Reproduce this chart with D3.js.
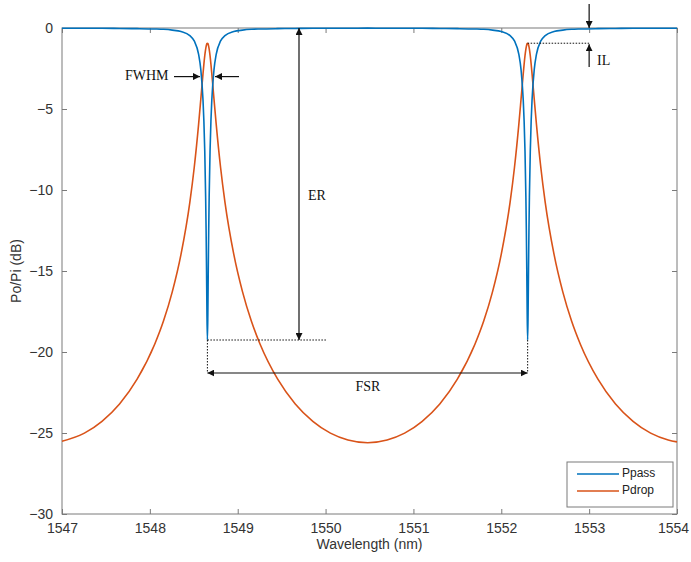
<!DOCTYPE html>
<html>
<head>
<meta charset="utf-8">
<script src="https://cdn.jsdelivr.net/npm/d3@7"></script>
<style>
  body { margin: 0; background: #fff; }
  text { font-family: "Liberation Sans", Arial, sans-serif; }
  .note { font-family: "Liberation Serif", "Times New Roman", serif; font-size: 14px; fill: #111; }
</style>
</head>
<body>
<div id="chart"></div>
<script>
var width = 691, height = 562;
var margin = { top: 28, right: 14, bottom: 48, left: 62 };

// wavelength samples (nm)
var wavelength = [
  1547.000, 1547.255, 1547.455, 1547.655, 1547.855, 1548.055, 1548.155, 1548.255, 1548.355,
  1548.455, 1548.505, 1548.555, 1548.580, 1548.605, 1548.615, 1548.625, 1548.635, 1548.640,
  1548.645, 1548.650, 1548.655, 1548.660, 1548.665, 1548.670, 1548.675, 1548.685, 1548.695,
  1548.705, 1548.730, 1548.755, 1548.805, 1548.855, 1548.955, 1549.055, 1549.155, 1549.255,
  1549.455, 1549.655, 1549.855, 1550.055, 1550.255, 1550.480,
  1550.700, 1550.900, 1551.100, 1551.300, 1551.500, 1551.700, 1551.800, 1551.900, 1552.000,
  1552.100, 1552.150, 1552.200, 1552.225, 1552.250, 1552.260, 1552.270, 1552.280, 1552.285,
  1552.290, 1552.295, 1552.300, 1552.305, 1552.310, 1552.315, 1552.320, 1552.330, 1552.340,
  1552.350, 1552.375, 1552.400, 1552.450, 1552.500, 1552.600, 1552.700, 1552.800, 1552.900,
  1553.100, 1553.300, 1553.500, 1553.700, 1553.900, 1554.000
];

// through port (dB)
var ppass = [
  -0.02, -0.02, -0.02, -0.03, -0.04, -0.06, -0.08, -0.13, -0.22,
  -0.47, -0.80, -1.63, -2.57, -4.46, -5.76, -7.62, -10.44, -12.39,
  -14.85, -17.65, -19.26, -17.65, -14.85, -12.39, -10.44, -7.62, -5.76,
  -4.46, -2.57, -1.63, -0.80, -0.47, -0.22, -0.13, -0.08, -0.06,
  -0.04, -0.03, -0.02, -0.02, -0.02, -0.01,
  -0.02, -0.02, -0.02, -0.03, -0.04, -0.06, -0.08, -0.13, -0.22,
  -0.47, -0.80, -1.63, -2.57, -4.46, -5.76, -7.62, -10.44, -12.39,
  -14.85, -17.65, -19.26, -17.65, -14.85, -12.39, -10.44, -7.62, -5.76,
  -4.46, -2.57, -1.63, -0.80, -0.47, -0.22, -0.13, -0.08, -0.06,
  -0.04, -0.03, -0.02, -0.02, -0.02, -0.02
];

// drop port (dB)
var pdrop = [
  -25.51, -25.01, -24.28, -23.21, -21.68, -19.52, -18.09, -16.29, -13.96,
  -10.76, -8.61, -5.93, -4.39, -2.82, -2.23, -1.71, -1.30, -1.15,
  -1.03, -0.96, -0.94, -0.96, -1.03, -1.15, -1.30, -1.71, -2.23,
  -2.82, -4.39, -5.93, -8.61, -10.76, -13.96, -16.29, -18.09, -19.52,
  -21.68, -23.21, -24.28, -25.01, -25.43, -25.60,
  -25.43, -25.01, -24.28, -23.21, -21.68, -19.52, -18.09, -16.29, -13.96,
  -10.76, -8.61, -5.93, -4.39, -2.82, -2.23, -1.71, -1.30, -1.15,
  -1.03, -0.96, -0.94, -0.96, -1.03, -1.15, -1.30, -1.71, -2.23,
  -2.82, -4.39, -5.93, -8.61, -10.76, -13.96, -16.29, -18.09, -19.52,
  -21.68, -23.21, -24.28, -25.01, -25.43, -25.55
];

var xTicks = [1547, 1548, 1549, 1550, 1551, 1552, 1553, 1554];
var yTicks = [0, -5, -10, -15, -20, -25, -30];
var seriesNames = ['Ppass', 'Pdrop'];
var seriesColors = ['#0072BD', '#D95319'];

// annotation anchor values
var res1 = 1548.655, res2 = 1552.30;
var dipBottom = -19.26, dropPeak = -0.94, fwhmLevel = -3;

var svg = d3.select('#chart').append('svg')
  .attr('width', width).attr('height', height)
  .style('background', '#fff');

var x = d3.scaleLinear().domain([1547, 1554]).range([margin.left, width - margin.right]);
var y = d3.scaleLinear().domain([-30, 0]).range([height - margin.bottom, margin.top]);

var defs = svg.append('defs');
defs.append('marker')
  .attr('id', 'head')
  .attr('viewBox', '0 0 10 10')
  .attr('refX', 10).attr('refY', 5)
  .attr('markerWidth', 7).attr('markerHeight', 7)
  .attr('markerUnits', 'userSpaceOnUse')
  .attr('orient', 'auto-start-reverse')
  .append('path').attr('d', 'M0,0 L10,5 L0,10 z').attr('fill', '#111');

// axes box
var axisColor = '#7a7a7a';
svg.append('rect')
  .attr('x', x(1547)).attr('y', y(0))
  .attr('width', x(1554) - x(1547)).attr('height', y(-30) - y(0))
  .attr('fill', 'none').attr('stroke', axisColor).attr('stroke-width', 1);

var xAxis = d3.axisBottom(x).tickValues(xTicks).tickSize(-5).tickPadding(9)
  .tickFormat(d3.format('d'));
var gx = svg.append('g').attr('transform', 'translate(0,' + y(-30) + ')').call(xAxis);
gx.select('.domain').remove();
gx.selectAll('line').attr('stroke', axisColor);
gx.selectAll('text').attr('fill', '#333').style('font-size', '14px')
  .attr('dx', function (d) { return d === 1554 ? -4 : 0; });

var gxTop = svg.append('g').attr('transform', 'translate(0,' + y(0) + ')')
  .call(d3.axisTop(x).tickValues(xTicks).tickSize(-5).tickFormat(''));
gxTop.select('.domain').remove();
gxTop.selectAll('line').attr('stroke', axisColor);

var yAxis = d3.axisLeft(y).tickValues(yTicks).tickSize(-5).tickPadding(9)
  .tickFormat(d3.format('d'));
var gy = svg.append('g').attr('transform', 'translate(' + x(1547) + ',0)').call(yAxis);
gy.select('.domain').remove();
gy.selectAll('line').attr('stroke', axisColor);
gy.selectAll('text').attr('fill', '#333').style('font-size', '14px');

var gyRight = svg.append('g').attr('transform', 'translate(' + x(1554) + ',0)')
  .call(d3.axisRight(y).tickValues(yTicks).tickSize(-5).tickFormat(''));
gyRight.select('.domain').remove();
gyRight.selectAll('line').attr('stroke', axisColor);

svg.append('text')
  .attr('x', (x(1547) + x(1554)) / 2).attr('y', height - 13)
  .attr('text-anchor', 'middle').attr('fill', '#333').style('font-size', '14px')
  .text('Wavelength (nm)');

svg.append('text')
  .attr('transform', 'translate(21,' + ((y(0) + y(-30)) / 2) + ') rotate(-90)')
  .attr('text-anchor', 'middle').attr('fill', '#333').style('font-size', '14px')
  .text('Po/Pi (dB)');

// curves
var seriesData = [ppass, pdrop];
var line = d3.line()
  .x(function (d) { return x(d[0]); })
  .y(function (d) { return y(d[1]); })
  .curve(d3.curveMonotoneX);

var plot = svg.append('g');
[1, 0].forEach(function (i) {
  var pts = wavelength.map(function (w, k) { return [w, seriesData[i][k]]; });
  plot.append('path')
    .datum(pts)
    .attr('d', line)
    .attr('fill', 'none')
    .attr('stroke', seriesColors[i])
    .attr('stroke-width', 1.6);
});

// annotations
var ann = svg.append('g');
function arrow(x1, y1, x2, y2, both) {
  var l = ann.append('line')
    .attr('x1', x1).attr('y1', y1).attr('x2', x2).attr('y2', y2)
    .attr('stroke', '#111').attr('stroke-width', 1.2)
    .attr('marker-end', 'url(#head)');
  if (both) l.attr('marker-start', 'url(#head)');
}
function dotted(x1, y1, x2, y2) {
  ann.append('line')
    .attr('x1', x1).attr('y1', y1).attr('x2', x2).attr('y2', y2)
    .attr('stroke', '#111').attr('stroke-width', 1)
    .attr('stroke-dasharray', '1.5,1.5');
}
function note(tx, ty, s) {
  ann.append('text').attr('class', 'note').attr('x', tx).attr('y', ty)
    .attr('dominant-baseline', 'middle').text(s);
}

// FWHM
arrow(174, y(fwhmLevel), 200, y(fwhmLevel));
arrow(239, y(fwhmLevel), 215, y(fwhmLevel));
note(125, y(fwhmLevel), 'FWHM');

// ER
arrow(299, y(0), 299, y(dipBottom), true);
dotted(x(res1), y(dipBottom), 327, y(dipBottom));
note(308, 197, 'ER');

// FSR
var fsrY = 373;
dotted(x(res1), y(dipBottom), x(res1), fsrY);
dotted(x(res2), y(dipBottom), x(res2), fsrY);
arrow(x(res1), fsrY, x(res2), fsrY, true);
ann.append('text').attr('class', 'note').attr('x', 368).attr('y', 388)
  .attr('text-anchor', 'middle').attr('dominant-baseline', 'middle').text('FSR');

// IL
var ilX = x(1553);
arrow(ilX, 4, ilX, y(0));
dotted(x(res2), y(dropPeak), ilX, y(dropPeak));
arrow(ilX, 67, ilX, y(dropPeak) + 1);
note(597, 62, 'IL');

// legend
var lg = svg.append('g').attr('transform', 'translate(567,462)');
lg.append('rect').attr('width', 106).attr('height', 45)
  .attr('fill', '#fff').attr('stroke', axisColor).attr('stroke-width', 1);
seriesNames.forEach(function (n, i) {
  var ly = 12 + i * 17;
  lg.append('line').attr('x1', 10).attr('x2', 52).attr('y1', ly).attr('y2', ly)
    .attr('stroke', seriesColors[i]).attr('stroke-width', 1.6);
  lg.append('text').attr('x', 55).attr('y', ly).attr('dominant-baseline', 'middle')
    .attr('fill', '#222').style('font-size', '12px').text(n);
});
</script>
</body>
</html>
